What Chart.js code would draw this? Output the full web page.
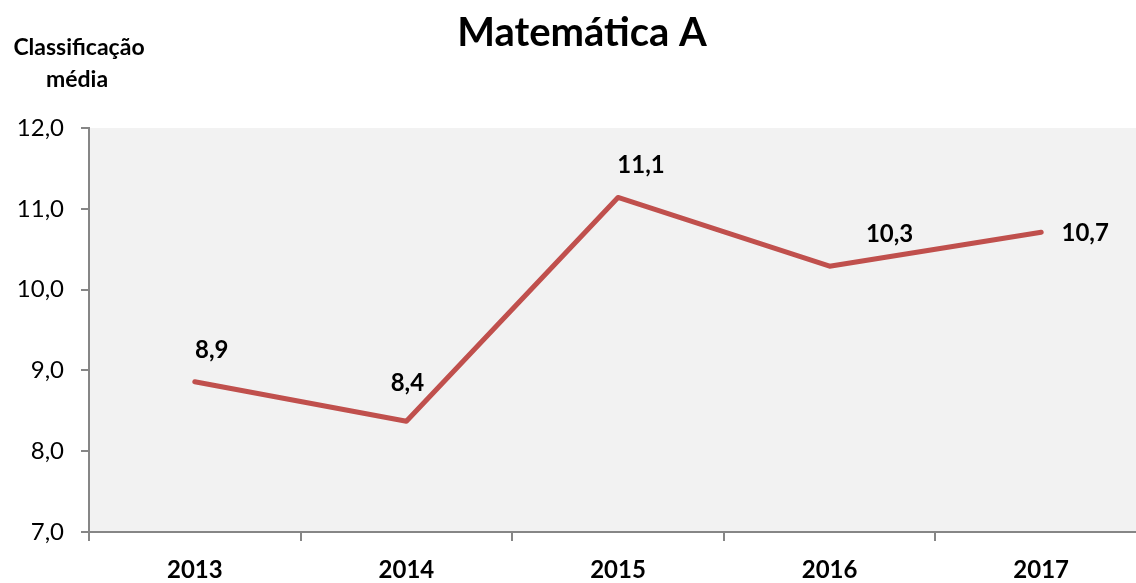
<!DOCTYPE html>
<html>
<head>
<meta charset="utf-8">
<script src="https://cdn.jsdelivr.net/npm/chart.js@4/dist/chart.umd.min.js"></script>
<style>
  html, body { margin: 0; padding: 0; background: #fff; overflow: hidden; }
  #wrap { width: 1136px; height: 583px; overflow: hidden; }
</style>
</head>
<body>
<div id="wrap"><canvas id="chart" width="1147" height="583"></canvas></div>
<script>
const years = ['2013', '2014', '2015', '2016', '2017'];
const averages = [8.86, 8.37, 11.14, 10.29, 10.71];
const yTicks = [7, 8, 9, 10, 11, 12];

const FONT = 'Lato, "Open Sans", sans-serif';
const fmt = v => v.toFixed(1).replace('.', ',');

// gray plot background
const plotBg = {
    id: 'plotBg',
    beforeDraw(chart) {
        const { ctx, chartArea: a } = chart;
        ctx.save();
        ctx.fillStyle = '#f2f2f2';
        ctx.fillRect(a.left, a.top, a.right - a.left, a.bottom - a.top);
        ctx.restore();
    }
};

// titles
const titles = {
    id: 'titles',
    afterDraw(chart) {
        const ctx = chart.ctx;
        ctx.save();
        ctx.fillStyle = '#000';
        ctx.textAlign = 'center';
        ctx.textBaseline = 'middle';
        ctx.font = 'bold 40px ' + FONT;
        ctx.fillText('Matemática A', 582, 33);
        ctx.font = 'bold 23px ' + FONT;
        ctx.fillText('Classificação', 79, 48);
        ctx.fillText('média', 77, 80);
        ctx.restore();
    }
};

// value labels next to each point
const valueLabels = {
    id: 'valueLabels',
    afterDatasetsDraw(chart, args, opts) {
        const ctx = chart.ctx;
        const meta = chart.getDatasetMeta(0);
        ctx.save();
        ctx.fillStyle = '#000';
        ctx.font = 'bold 24px ' + FONT;
        ctx.textAlign = 'center';
        ctx.textBaseline = 'middle';
        meta.data.forEach((pt, i) => {
            const off = opts.offsets[i];
            ctx.fillText(fmt(averages[i]), pt.x + off[0], pt.y + off[1]);
        });
        ctx.restore();
    }
};

new Chart(document.getElementById('chart'), {
    type: 'line',
    data: {
        labels: years,
        datasets: [{
            data: averages,
            borderColor: '#c0504d',
            borderWidth: 5,
            borderCapStyle: 'round',
            borderJoinStyle: 'round',
            pointRadius: 0,
            tension: 0,
            fill: false
        }]
    },
    options: {
        responsive: false,
        animation: false,
        layout: { padding: { top: 128, left: 0, right: 0, bottom: 0 } },
        plugins: {
            legend: { display: false },
            tooltip: { enabled: false },
            valueLabels: { offsets: [[17, -31], [1, -38], [23, -32], [60, -32], [44, 1]] }
        },
        scales: {
            x: {
                offset: true,
                grid: { offset: true, drawOnChartArea: false, drawTicks: true, tickLength: 9, color: '#868686', lineWidth: 2 },
                border: { color: '#868686', width: 2 },
                ticks: { color: '#000', font: { family: FONT, size: 24, weight: 'bold' }, padding: 15, maxRotation: 0 },
                afterFit(scale) { scale.height = 51; }
            },
            y: {
                min: 7,
                max: 12,
                afterBuildTicks(scale) { scale.ticks = yTicks.map(v => ({ value: v })); },
                grid: { drawOnChartArea: false, drawTicks: true, tickLength: 8, color: '#868686', lineWidth: 2 },
                border: { color: '#868686', width: 2 },
                ticks: { color: '#000', font: { family: FONT, size: 24 }, padding: 17, callback: v => fmt(v) },
                afterFit(scale) { scale.width = 89; }
            }
        }
    },
    plugins: [plotBg, titles, valueLabels]
});
</script>
</body>
</html>
